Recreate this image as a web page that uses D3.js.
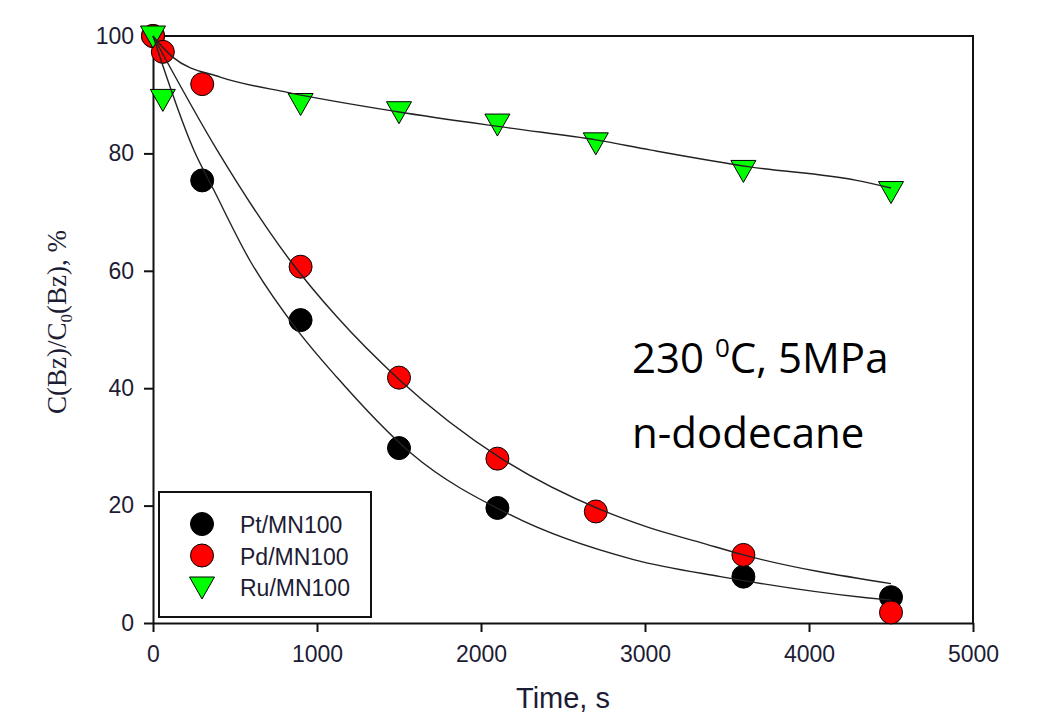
<!DOCTYPE html>
<html>
<head>
<meta charset="utf-8">
<script src="https://cdn.jsdelivr.net/npm/d3@7"></script>
<style>
  body { margin: 0; background: #fff; }
  svg { display: block; }
</style>
</head>
<body>
<div id="container"></div>
<script>
/* CONSTANTS AND GLOBALS */
const width = 1039,
  height = 718,
  margin = { top: 36, bottom: 95, left: 153, right: 66 };

/* DATA */
const xTicks = [0, 1000, 2000, 3000, 4000, 5000];
const yTicks = [0, 20, 40, 60, 80, 100];

// measured points
const ptTime = [0, 300, 900, 1500, 2100, 3600, 4500];
const ptConv = [100, 75.4, 51.6, 29.8, 19.6, 7.9, 4.4];

const pdTime = [0, 60, 300, 900, 1500, 2100, 2700, 3600, 4500];
const pdConv = [100, 97.3, 91.8, 60.7, 41.8, 28.0, 19.0, 11.6, 1.8];

const ruTime = [0, 60, 900, 1500, 2100, 2700, 3600, 4500];
const ruConv = [100, 89.2, 88.5, 87.1, 85.0, 81.8, 77.1, 73.5];

// fitted curves
const ptFitTime = [0, 250, 370, 590, 880, 1120, 1570, 2180, 2930, 3460, 4350, 4500];
const ptFitConv = [100, 80.5, 73.8, 61.8, 49.9, 41.9, 29.0, 18.4, 10.8, 7.9, 4.3, 3.9];

const pdFitTime = [0, 390, 835, 1120, 1500, 2120, 2730, 3030, 3340, 3600, 4500];
const pdFitConv = [100, 80.6, 61.8, 52.2, 41.5, 28.1, 19.3, 16.2, 13.7, 11.6, 6.7];

const ruFitTime = [0, 120, 410, 820, 1490, 2180, 2700, 3030, 3640, 4290, 4500];
const ruFitConv = [100, 96.4, 93.0, 90.4, 87.1, 84.3, 82.3, 80.6, 77.7, 75.4, 74.1];

const seriesNames = ["Pt/MN100", "Pd/MN100", "Ru/MN100"];
const seriesFill = ["#000000", "#ff0000", "#00ff00"];
const seriesShape = ["circle", "circle", "triangle"];

const zip = (t, c) => t.map((d, i) => ({ t: d, c: c[i] }));
const points = [zip(ptTime, ptConv), zip(pdTime, pdConv), zip(ruTime, ruConv)];
const fits = [zip(ptFitTime, ptFitConv), zip(pdFitTime, pdFitConv), zip(ruFitTime, ruFitConv)];

const textColor = "#1c1c34";

/* SCALES */
const xScale = d3.scaleLinear()
  .domain([0, 5000])
  .range([margin.left, width - margin.right]);

const yScale = d3.scaleLinear()
  .domain([0, 100])
  .range([height - margin.bottom, margin.top]);

const symbolPath = shape => shape === "circle"
  ? d3.symbol(d3.symbolCircle, Math.PI * 11.5 * 11.5)()
  : "M-12.5,-10L12.5,-10L0,12Z";

/* HTML ELEMENTS */
const svg = d3.select("#container")
  .append("svg")
  .attr("width", width)
  .attr("height", height);

// frame (top + right)
svg.append("path")
  .attr("d", `M${xScale(0)},${yScale(100)}H${xScale(5000)}V${yScale(0)}`)
  .attr("fill", "none")
  .attr("stroke", "#111")
  .attr("stroke-width", 2);

// axes
const xAxis = d3.axisBottom(xScale)
  .tickValues(xTicks)
  .tickFormat(d3.format("d"))
  .tickSize(9)
  .tickSizeOuter(0)
  .tickPadding(14);

const yAxis = d3.axisLeft(yScale)
  .tickValues(yTicks)
  .tickFormat(d3.format("d"))
  .tickSize(9)
  .tickSizeOuter(0)
  .tickPadding(10);

const gx = svg.append("g")
  .attr("transform", `translate(0,${height - margin.bottom})`)
  .call(xAxis);

const gy = svg.append("g")
  .attr("transform", `translate(${margin.left},0)`)
  .call(yAxis);

[gx, gy].forEach(g => {
  g.selectAll(".domain").attr("stroke", "#111").attr("stroke-width", 2);
  g.selectAll(".tick line").attr("stroke", "#111").attr("stroke-width", 2);
  g.selectAll(".tick text")
    .attr("fill", textColor)
    .style("font-family", "'Liberation Sans', Arial, sans-serif")
    .style("font-size", "23px");
});

// markers
points.forEach((pts, i) => {
  svg.append("g")
    .selectAll("path")
    .data(pts)
    .join("path")
    .attr("d", symbolPath(seriesShape[i]))
    .attr("transform", d => `translate(${xScale(d.t)},${yScale(d.c)})`)
    .attr("fill", seriesFill[i])
    .attr("stroke", "#000")
    .attr("stroke-width", 1);
});

// fitted curves on top
const line = d3.line()
  .x(d => xScale(d.t))
  .y(d => yScale(d.c))
  .curve(d3.curveMonotoneX);

fits.forEach(f => {
  svg.append("path")
    .datum(f)
    .attr("d", line)
    .attr("fill", "none")
    .attr("stroke", "#222")
    .attr("stroke-width", 1.4);
});

// axis labels
svg.append("text")
  .attr("x", (xScale(0) + xScale(5000)) / 2)
  .attr("y", 708)
  .attr("text-anchor", "middle")
  .attr("fill", textColor)
  .style("font-family", "'Liberation Sans', Arial, sans-serif")
  .style("font-size", "29px")
  .text("Time, s");

const ylab = svg.append("text")
  .attr("transform", "translate(66,322) rotate(-90)")
  .attr("text-anchor", "middle")
  .attr("fill", textColor)
  .style("font-family", "'Liberation Serif', 'Times New Roman', serif")
  .style("font-size", "27px");
ylab.append("tspan").text("C(Bz)/C");
ylab.append("tspan").attr("dy", 6).style("font-size", "17px").text("0");
ylab.append("tspan").attr("dy", -6).text("(Bz), %");

// annotation
const ann = svg.append("g")
  .style("font-family", "'Open Sans', sans-serif")
  .attr("fill", "#000");
const a1 = ann.append("text").attr("x", 632).attr("y", 373).style("font-size", "42px");
a1.append("tspan").text("230 ");
a1.append("tspan").attr("dy", -16).style("font-size", "26px").text("0");
a1.append("tspan").attr("dy", 16).text("C, 5MPa");
ann.append("text").attr("x", 632).attr("y", 448).style("font-size", "42px").text("n-dodecane");

// legend
const legend = svg.append("g");
legend.append("rect")
  .attr("x", 159).attr("y", 492)
  .attr("width", 212).attr("height", 125)
  .attr("fill", "#fff")
  .attr("stroke", "#111")
  .attr("stroke-width", 2);

const rows = legend.selectAll(".row")
  .data(seriesNames)
  .join("g")
  .attr("class", "row")
  .attr("transform", (d, i) => `translate(202,${524 + i * 31.5})`);

rows.append("path")
  .attr("d", (d, i) => symbolPath(seriesShape[i]))
  .attr("fill", (d, i) => seriesFill[i])
  .attr("stroke", "#000")
  .attr("stroke-width", 1);

rows.append("text")
  .attr("x", 38)
  .attr("y", 9)
  .attr("fill", textColor)
  .style("font-family", "'Liberation Sans', Arial, sans-serif")
  .style("font-size", "23px")
  .text(d => d);
</script>
</body>
</html>
